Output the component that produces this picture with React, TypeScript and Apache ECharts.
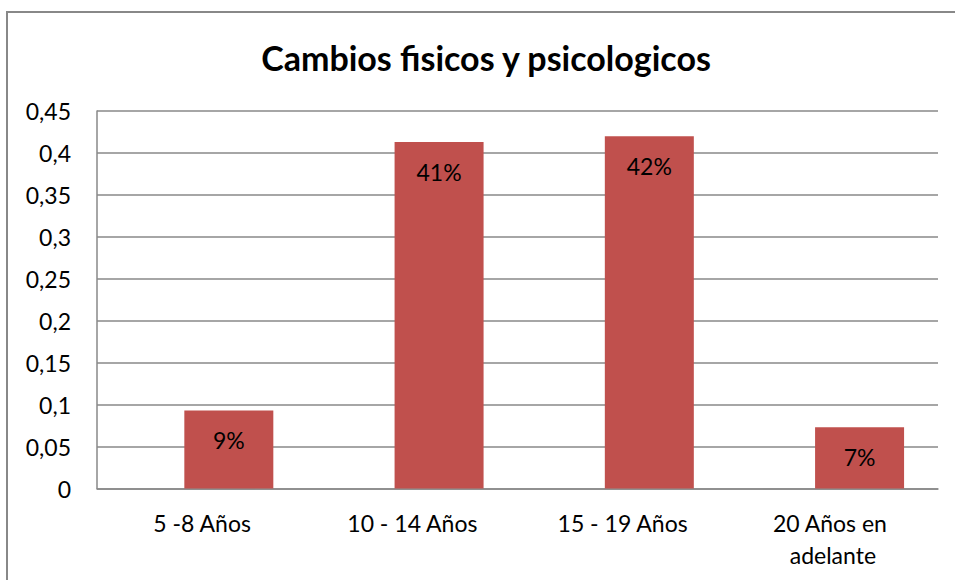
import React, { useEffect, useRef } from "react";
import * as echarts from "echarts";

const titleText = "Cambios fisicos y psicologicos";
const categories = ["5 -8 Años", "10 - 14 Años", "15 - 19 Años", "20 Años en adelante"];
const values = [0.093, 0.413, 0.42, 0.073];
const emptySeries = [null, null, null, null];
const yTickLabels = ["0", "0,05", "0,1", "0,15", "0,2", "0,25", "0,3", "0,35", "0,4", "0,45"];

const FONT = "Lato";

export default function App() {
  const ref = useRef<HTMLDivElement>(null);
  useEffect(() => {
    if (!ref.current) return;
    const chart = echarts.init(ref.current, undefined, { renderer: "svg" });
    chart.setOption({
      animation: false,
      backgroundColor: "#ffffff",
      textStyle: { fontFamily: FONT },
      title: {
        text: titleText,
        left: 481,
        top: 35,
        textAlign: "center",
        textStyle: { fontFamily: FONT, fontWeight: "bold", fontSize: 34, color: "#000" },
      },
      graphic: [
        {
          type: "rect",
          shape: { x: 7, y: 12, width: 1000, height: 700 },
          style: { fill: "none", stroke: "#888888", lineWidth: 2 },
          silent: true,
        },
      ],
      grid: { left: 97, right: 17, top: 111, bottom: 91.5, containLabel: false },
      xAxis: {
        type: "category",
        data: categories,
        axisLine: { show: true, lineStyle: { color: "#888888", width: 1.5 } },
        axisTick: { show: false },
        axisLabel: {
          color: "#000",
          fontFamily: FONT,
          fontSize: 23,
          margin: 18,
          lineHeight: 32,
          width: 150,
          overflow: "break",
          interval: 0,
        },
      },
      yAxis: {
        type: "value",
        min: 0,
        max: 0.45,
        interval: 0.05,
        axisLine: { show: true, lineStyle: { color: "#888888", width: 1.5 } },
        axisTick: { show: false },
        splitLine: { show: true, lineStyle: { color: "#888888", width: 1.5 } },
        axisLabel: {
          color: "#000",
          fontFamily: FONT,
          fontSize: 23,
          margin: 26,
          formatter: (_v: number, i: number) => yTickLabels[i] ?? "",
        },
      },
      series: [
        {
          type: "bar",
          data: emptySeries,
          barWidth: 89,
          barGap: "-40%",
          itemStyle: { color: "#C0504D" },
        },
        {
          type: "bar",
          data: values,
          barWidth: 89,
          barGap: "-40%",
          itemStyle: { color: "#C0504D" },
          label: {
            show: true,
            position: "insideTop",
            distance: 18,
            color: "#000",
            fontFamily: FONT,
            fontSize: 23,
            formatter: (p: any) => Math.round(p.value * 100) + "%",
          },
        },
      ],
    });
    return () => chart.dispose();
  }, []);
  return (
    <div
      ref={ref}
      style={{ position: "fixed", left: 0, top: 0, width: 955, height: 580 }}
    />
  );
}
